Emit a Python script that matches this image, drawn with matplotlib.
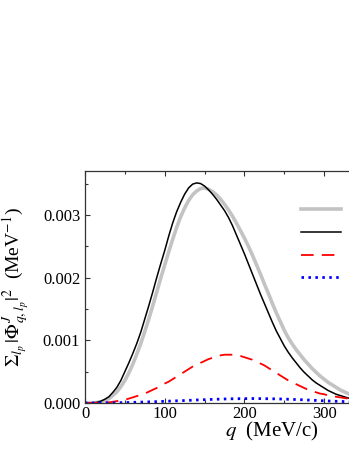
import numpy as np
import matplotlib
matplotlib.use("Agg")
import matplotlib.pyplot as plt

plt.rcParams['font.family'] = ['Liberation Serif', 'DejaVu Serif']
plt.rcParams['mathtext.fontset'] = 'stix'

q = list(range(0, 355, 5))

sum_total = [0, 0, 0.000002, 0.000008, 0.00002, 0.00004, 0.00007, 0.00012, 0.00018, 0.00026,
             0.00036, 0.00048, 0.00062, 0.00078, 0.00095, 0.00114, 0.00134, 0.00155, 0.00177, 0.00199,
             0.00220, 0.00241, 0.00261, 0.00280, 0.00297, 0.00311, 0.00323, 0.00332, 0.00338, 0.00342,
             0.00343, 0.00341, 0.00337, 0.00332, 0.00325, 0.00317, 0.00308, 0.00298, 0.00287, 0.00275,
             0.00263, 0.00250, 0.00236, 0.00221, 0.00206, 0.00190, 0.00175, 0.00159, 0.00144, 0.00130,
             0.00116, 0.00104, 0.00094, 0.00085, 0.00077, 0.00069, 0.00062, 0.00055, 0.00049, 0.00043,
             0.00038, 0.00033, 0.00029, 0.00025, 0.00021, 0.00018, 0.00015, 0.00013, 0.00011, 0.00010,
             0.00008]

black_curve = [0, 0, 0.000003, 0.00001, 0.00003, 0.00006, 0.0001, 0.00017, 0.00025, 0.00036,
               0.0005, 0.00064, 0.00079, 0.00095, 0.00113, 0.00134, 0.00155, 0.00177, 0.00200, 0.00222,
               0.00243, 0.00266, 0.00287, 0.00305, 0.00320, 0.00333, 0.00343, 0.00349, 0.00351, 0.00350,
               0.00346, 0.00340, 0.00333, 0.00325, 0.00316, 0.00307, 0.00296, 0.00283, 0.00268, 0.00253,
               0.00238, 0.00222, 0.00206, 0.00190, 0.00174, 0.00159, 0.00144, 0.00129, 0.00115, 0.00103,
               0.00091, 0.00081, 0.00072, 0.00064, 0.00056, 0.00049, 0.00043, 0.00037, 0.00032, 0.00028,
               0.00024, 0.00020, 0.00017, 0.00014, 0.00012, 0.00010, 0.00008, 0.00007, 0.00006, 0.00005,
               0.00004]

red_curve = [0, 0, 0.000001, 0.000002, 0.000004, 0.000007, 0.00001, 0.00002, 0.00003, 0.00004,
             0.00005, 0.00007, 0.00009, 0.00011, 0.00013, 0.00015, 0.00018, 0.00021, 0.00024, 0.00027,
             0.00031, 0.00034, 0.00038, 0.00042, 0.00046, 0.00050, 0.00054, 0.00058, 0.00061, 0.00064,
             0.00067, 0.00070, 0.00072, 0.00074, 0.00076, 0.00077, 0.00077, 0.00077, 0.00076, 0.00075,
             0.00073, 0.00071, 0.00069, 0.00066, 0.00063, 0.00060, 0.00056, 0.00052, 0.00048, 0.00044,
             0.00040, 0.00036, 0.00033, 0.00030, 0.00027, 0.00024, 0.00021, 0.00019, 0.00017, 0.00015,
             0.00014, 0.00012, 0.00011, 0.00010, 0.00009, 0.00008, 0.00007, 0.00006, 0.00005, 0.000045,
             0.00004]

blue_curve = [0, 0.0000005, 0.000001, 0.0000015, 0.000002, 0.0000025, 0.000003, 0.000004, 0.000005, 0.000006,
              0.000007, 0.0000085, 0.00001, 0.000012, 0.000014, 0.000016, 0.000018, 0.00002, 0.000022, 0.0000245,
              0.000027, 0.0000295, 0.000032, 0.0000345, 0.000037, 0.0000395, 0.000042, 0.000045, 0.000048, 0.0000505,
              0.000053, 0.0000555, 0.000058, 0.00006, 0.000062, 0.000064, 0.000066, 0.000067, 0.000068, 0.000069,
              0.00007, 0.00007, 0.000071, 0.00007, 0.00007, 0.000069, 0.000068, 0.000067, 0.000066, 0.000064,
              0.000062, 0.00006, 0.000058, 0.000055, 0.000053, 0.00005, 0.000047, 0.000044, 0.000041, 0.000038,
              0.000035, 0.000032, 0.00003, 0.000027, 0.000025, 0.000023, 0.000021, 0.000019, 0.000017, 0.000015,
              0.000014]

labels = ["S+D", "   S", "   D", "   P"]
xticks = [0, 100, 200, 300]
yticks = [0.000, 0.001, 0.002, 0.003]

W, H = 349, 451
fig = plt.figure(figsize=(W / 100, H / 100), dpi=100)
ax = fig.add_axes([85 / W, (H - 403) / H, 318.8 / W, 232 / H])

ax.plot(q, sum_total, color='#c3c3c3', lw=2.6, label=labels[0])
ax.plot(q, black_curve, color='black', lw=1.1, label=labels[1])
ax.plot(q, red_curve, color='#ff0000', lw=1.3, ls=(0, (7, 4.5)), label=labels[2])
ax.plot(q, blue_curve, color='#0000ff', lw=2.0, ls=(0, (0.9, 1.6)), label=labels[3])

ax.set_xlim(0, 400)
ax.set_ylim(0, 0.0037)
ax.set_xticks(xticks)
ax.set_xticklabels([str(t) for t in xticks])
ax.set_yticks(yticks)
ax.set_yticklabels(["%.3f" % t for t in yticks])
ax.set_xticks(np.arange(50, 400, 100), minor=True)
ax.set_yticks(np.arange(0.0005, 0.0037, 0.001), minor=True)
ax.tick_params(which='both', direction='in', top=True, right=True, width=0.8, color='#333333',
               labelsize=12)
ax.tick_params(which='major', length=3.6)
ax.tick_params(which='minor', length=2.2)
ax.tick_params(axis='y', pad=3.5)
ax.tick_params(axis='x', pad=2)
for s in ax.spines.values():
    s.set_linewidth(0.9)
    s.set_color('#333333')

ax.set_xlabel(r'$q$  (MeV/c)', fontsize=15)
ax.xaxis.set_label_coords(0.587, -0.075)
ax.set_ylabel(r'$\Sigma_{l_p}\,|\Phi^{J}_{q,l_p}|^2$  (MeV$^{-1}$)', fontsize=14)
ax.yaxis.set_label_coords(-0.166, 0.5)

ax.legend(loc='upper left', bbox_to_anchor=(0.652, 0.897), frameon=False, borderpad=0,
          handlelength=2.4, handletextpad=0.7, labelspacing=0.4, fontsize=12)

fig.savefig('out.png', dpi=100)
